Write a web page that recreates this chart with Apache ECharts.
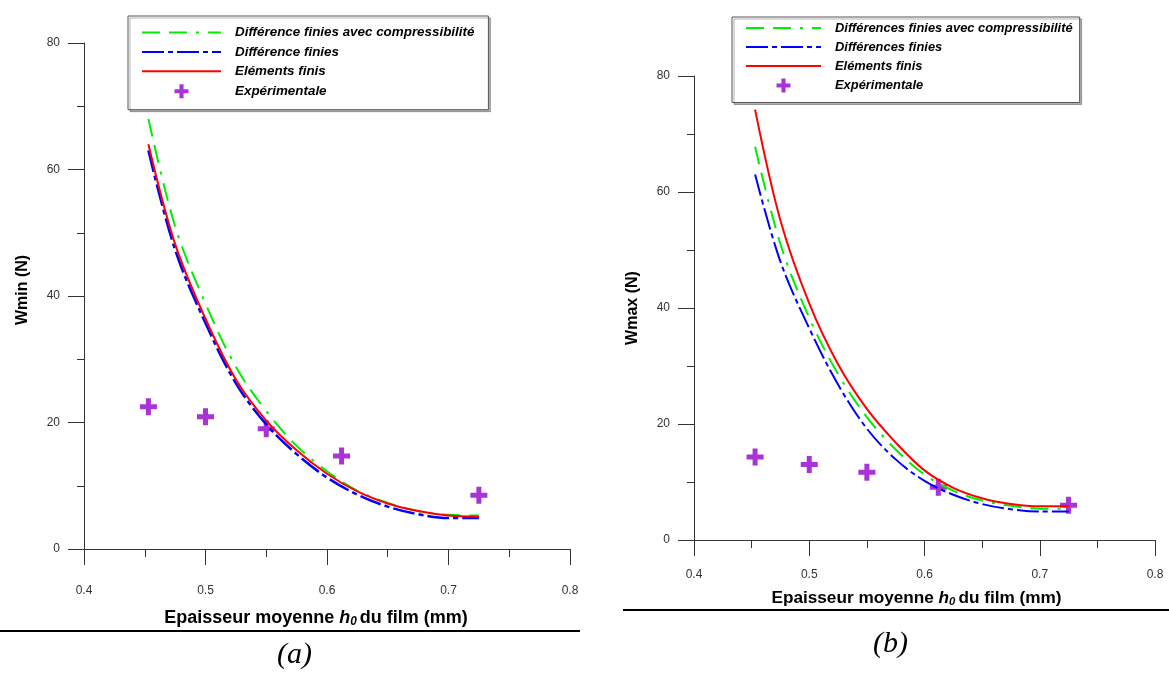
<!DOCTYPE html>
<html>
<head>
<meta charset="utf-8">
<script src="https://cdn.jsdelivr.net/npm/echarts@6/dist/echarts.min.js"></script>
<style>
html,body{margin:0;padding:0;background:#fff;}
#c{width:1169px;height:673px;}
</style>
</head>
<body>
<div id="c"></div>
<script>
// ---- data ----
const hX = [0.453, 0.475, 0.5, 0.525, 0.55, 0.575, 0.6, 0.625, 0.65, 0.675, 0.7, 0.725];
// (a) Wmin
const greenA = [68, 51, 38.8, 28.8, 21.8, 16.3, 12.3, 9.2, 7.3, 6.0, 5.4, 5.3];
const blueA  = [63, 47.3, 35.7, 26.2, 19.7, 15.0, 11.3, 8.6, 6.7, 5.5, 4.9, 4.9];
const redA   = [64, 48.2, 36.4, 26.8, 20.3, 15.6, 11.9, 9.1, 7.2, 6.0, 5.3, 5.1];
// (b) Wmax
const greenB = [67.8, 51.0, 38.3, 28.6, 21.2, 15.6, 11.3, 8.5, 6.8, 5.9, 5.4, 5.4];
const blueB  = [63, 48, 36.5, 26.8, 19.2, 13.9, 10.2, 7.8, 6.2, 5.3, 4.9, 4.9];
const redB   = [74.2, 55.1, 40.8, 30.3, 22.6, 16.8, 12.0, 9.0, 7.2, 6.2, 5.8, 5.8];
// experimental points
const expX = [0.453, 0.5, 0.55, 0.612, 0.725];
const expA = [22.5, 20.9, 19.0, 14.7, 8.5];
const expB = [14.3, 13.0, 11.7, 9.1, 6.0];
// axis ticks / names
const xMin = 0.4, xMax = 0.8, xStep = 0.1;
const yMin = 0, yMax = 80, yStep = 20;
const namesA = ['Différence finies avec compressibilité', 'Différence finies', 'Eléments finis', 'Expérimentale'];
const namesB = ['Différences finies avec compressibilité', 'Différences finies', 'Eléments finis', 'Expérimentale'];
const yNames = ['Wmin (N)', 'Wmax (N)'];
const panelLabels = ['(a)', '(b)'];

const FONT = "'Liberation Sans', Arial, sans-serif";
const zip = (xs, ys) => xs.map((x, i) => [x, ys[i]]);
const PLUS = 'path://M6,0H11V6H17V11H11V17H6V11H0V6H6Z';
const GREEN = '#00ee00', BLUE = '#0000ff', RED = '#ff0000', PURPLE = '#9400cc';

function xAxisCfg(gi, margin, nameGap, fs, shiftPad) {
  return {
    type: 'value', gridIndex: gi, min: xMin, max: xMax, interval: xStep,
    axisLine: {show: true, lineStyle: {color: '#333', width: 1}},
    axisTick: {show: true, length: 16, inside: false, lineStyle: {color: '#333'}},
    minorTick: {show: true, splitNumber: 2, length: 8, lineStyle: {color: '#333'}},
    splitLine: {show: false},
    axisLabel: {margin: margin, color: '#333', fontSize: 12, fontFamily: FONT,
      formatter: v => v.toFixed(1)},
    name: 'Epaisseur moyenne {h|h}{s|0}du film (mm)',
    nameLocation: 'middle', nameGap: nameGap,
    nameTextStyle: {
      fontFamily: FONT, fontWeight: 'bold', fontSize: fs, color: '#000',
      padding: [0, shiftPad, 0, 0],
      rich: {
        h: {fontFamily: FONT, fontWeight: 'bold', fontStyle: 'italic', fontSize: fs, color: '#000'},
        s: {fontFamily: FONT, fontWeight: 'bold', fontStyle: 'italic', fontSize: fs * 0.66, color: '#000', padding: [8, 3, 0, 0]}
      }
    }
  };
}
function yAxisCfg(gi, name, nameGap, upPad) {
  return {
    type: 'value', gridIndex: gi, min: yMin, max: yMax, interval: yStep,
    axisLine: {show: true, lineStyle: {color: '#333', width: 1}},
    axisTick: {show: true, length: 16, lineStyle: {color: '#333'}},
    minorTick: {show: true, splitNumber: 2, length: 7, lineStyle: {color: '#333'}},
    splitLine: {show: false},
    axisLabel: {margin: 24, color: '#333', fontSize: 12, fontFamily: FONT},
    name: name, nameLocation: 'middle', nameRotate: 90, nameGap: nameGap,
    nameTextStyle: {fontFamily: FONT, fontWeight: 'bold', fontSize: 16, color: '#000', padding: [0, 0, 0, upPad]}
  };
}
function lineSeries(name, gi, data, color, type, width) {
  return {
    name: name, type: 'line', xAxisIndex: gi, yAxisIndex: gi,
    data: data, smooth: 0.35, symbol: 'none', showSymbol: false,
    lineStyle: {color: color, width: width, type: type},
    itemStyle: {color: color}, z: 3, silent: true
  };
}
function expSeries(name, gi, data) {
  return {
    name: name, type: 'scatter', xAxisIndex: gi, yAxisIndex: gi,
    data: data, symbol: PLUS, symbolSize: 17,
    itemStyle: {color: PURPLE}, z: 2, silent: true
  };
}
function legendCfg(names, left, top, padding, gap, fs, iw) {
  return {
    orient: 'vertical', left: left, top: top, padding: padding,
    itemGap: gap, itemWidth: iw, itemHeight: 14, selectedMode: false,
    data: names.map((n, i) => i < 3 ? {name: n, itemStyle: {opacity: 0}} : {name: n}),
    backgroundColor: '#fff', borderColor: '#555', borderWidth: 1,
    shadowColor: 'rgba(0,0,0,0.3)', shadowOffsetX: 2, shadowOffsetY: 2, shadowBlur: 0,
    textStyle: {fontFamily: FONT, fontWeight: 'bold', fontStyle: 'italic', fontSize: fs, color: '#000', padding: [0, 0, 0, 9]}
  };
}

const GDASH = [18, 9, 18, 9, 3, 9];
const BDASH = [22, 4, 5, 4];

const chart = echarts.init(document.getElementById('c'), null, {renderer: 'canvas'});
chart.setOption({
  animation: false,
  backgroundColor: '#fff',
  grid: [
    {left: 84, top: 43, width: 486, height: 506},
    {left: 694, top: 76, width: 461, height: 464}
  ],
  xAxis: [xAxisCfg(0, 35.5, 59, 18, 22), xAxisCfg(1, 29, 48.5, 17.2, 16)],
  yAxis: [yAxisCfg(0, yNames[0], 53, 12), yAxisCfg(1, yNames[1], 53, 0)],
  legend: [
    legendCfg(namesA, 128, 16, [10, 14, 11.5, 13], 6.4, 13.4, 79),
    legendCfg(namesB, 732, 17, [4.5, 7, 10, 13], 6, 12.9, 75)
  ],
  series: [
    expSeries(namesA[3], 0, zip(expX, expA)),
    lineSeries(namesA[1], 0, zip(hX, blueA), BLUE, BDASH, 2.5),
    lineSeries(namesA[0], 0, zip(hX, greenA), GREEN, GDASH, 2),
    lineSeries(namesA[2], 0, zip(hX, redA), RED, 'solid', 2),
    expSeries(namesB[3], 1, zip(expX, expB)),
    lineSeries(namesB[1], 1, zip(hX, blueB), BLUE, BDASH, 2),
    lineSeries(namesB[0], 1, zip(hX, greenB), GREEN, GDASH, 2),
    lineSeries(namesB[2], 1, zip(hX, redB), RED, 'solid', 2)
  ],
  graphic: [
    {type: 'line', shape: {x1: 0, y1: 631, x2: 580, y2: 631}, style: {stroke: '#000', lineWidth: 2}},
    {type: 'line', shape: {x1: 623, y1: 610, x2: 1169, y2: 610}, style: {stroke: '#000', lineWidth: 2}},
    {type: 'text', left: 277, top: 640, style: {text: panelLabels[0], font: "italic 30px 'Liberation Serif', 'Times New Roman', serif", fill: '#000'}},
    {type: 'text', left: 873, top: 629, style: {text: panelLabels[1], font: "italic 30px 'Liberation Serif', 'Times New Roman', serif", fill: '#000'}}
  ]
});
</script>
</body>
</html>
